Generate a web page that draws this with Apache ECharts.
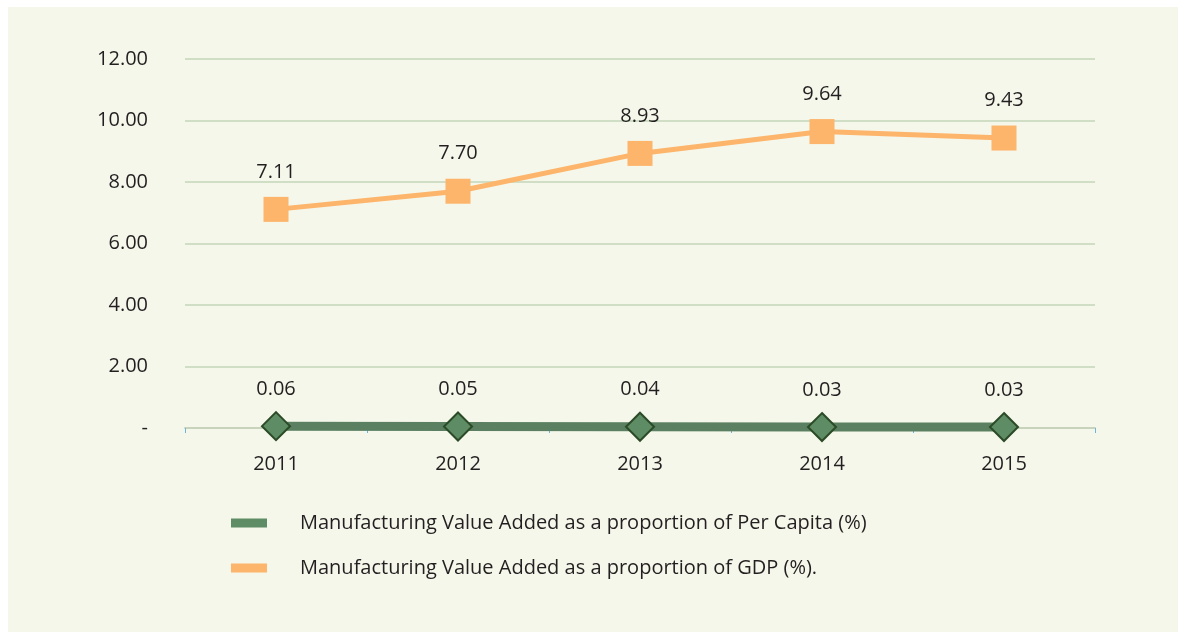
<!DOCTYPE html>
<html>
<head>
<meta charset="utf-8">
<script src="https://cdn.jsdelivr.net/npm/echarts@6/dist/echarts.min.js"></script>
<style>
  html, body { margin: 0; padding: 0; background: #ffffff; }
  #panel {
    position: absolute; left: 8px; top: 7px; width: 1170px; height: 625px;
    background: #f5f7ea;
  }
  #chart { position: absolute; left: 0; top: 0; width: 1186px; height: 640px; }
</style>
</head>
<body>
<div id="panel"></div>
<div id="chart"></div>
<script>
// 数据
const years = ['2011', '2012', '2013', '2014', '2015']
const perCapita = [0.06, 0.05, 0.04, 0.03, 0.03]
const gdpShare = [7.11, 7.70, 8.93, 9.64, 9.43]
const seriesNames = [
  'Manufacturing Value Added as a proportion of Per Capita (%)',
  'Manufacturing Value Added as a proportion of GDP (%).'
]

const chart = echarts.init(document.getElementById('chart'))

const makeLabel = (distance) => ({
  show: true,
  position: 'top',
  distance: distance,
  fontSize: 20,
  color: '#231f20',
  fontFamily: 'Open Sans',
  formatter: (p) => p.value.toFixed(2)
})

chart.setOption({
  backgroundColor: 'transparent',
  textStyle: { fontFamily: 'Open Sans' },
  grid: { left: 185, right: 91, top: 59, bottom: 212 },
  legend: {
    orient: 'vertical',
    left: 226,
    top: 508,
    itemWidth: 36,
    itemHeight: 9,
    itemGap: 25,
    icon: 'rect',
    itemStyle: { borderWidth: 0 },
    textStyle: {
      fontSize: 20,
      color: '#231f20',
      padding: [0, 0, 0, 28]
    },
    data: seriesNames
  },
  xAxis: {
    type: 'category',
    data: years,
    boundaryGap: true,
    axisLine: { lineStyle: { color: '#c8d3bc', width: 2 } },
    axisTick: { show: true, length: 5, lineStyle: { color: '#6bb5e0', width: 1 } },
    axisLabel: { fontSize: 20, color: '#231f20', margin: 26 }
  },
  yAxis: {
    type: 'value',
    min: 0,
    max: 12,
    interval: 2,
    axisLine: { show: false },
    axisTick: { show: false },
    splitLine: { lineStyle: { color: '#c2d6b9', width: 1.5 } },
    axisLabel: {
      fontSize: 20,
      color: '#231f20',
      margin: 37,
      formatter: (v) => (v === 0 ? '-' : v.toFixed(2))
    }
  },
  series: [
    {
      name: seriesNames[0],
      type: 'line',
      data: perCapita,
      color: '#5a8061',
      lineStyle: { color: '#5a8061', width: 9 },
      symbol: 'diamond',
      symbolSize: 28,
      itemStyle: { color: '#5e8c65', borderColor: '#2b4a26', borderWidth: 2 },
      label: makeLabel(12),
      z: 3
    },
    {
      name: seriesNames[1],
      type: 'line',
      data: gdpShare,
      color: '#fdb46b',
      lineStyle: { color: '#fdb46b', width: 5 },
      symbol: 'rect',
      symbolSize: 25,
      itemStyle: { color: '#fdb46b' },
      label: makeLabel(15),
      z: 2
    }
  ]
})
</script>
</body>
</html>
